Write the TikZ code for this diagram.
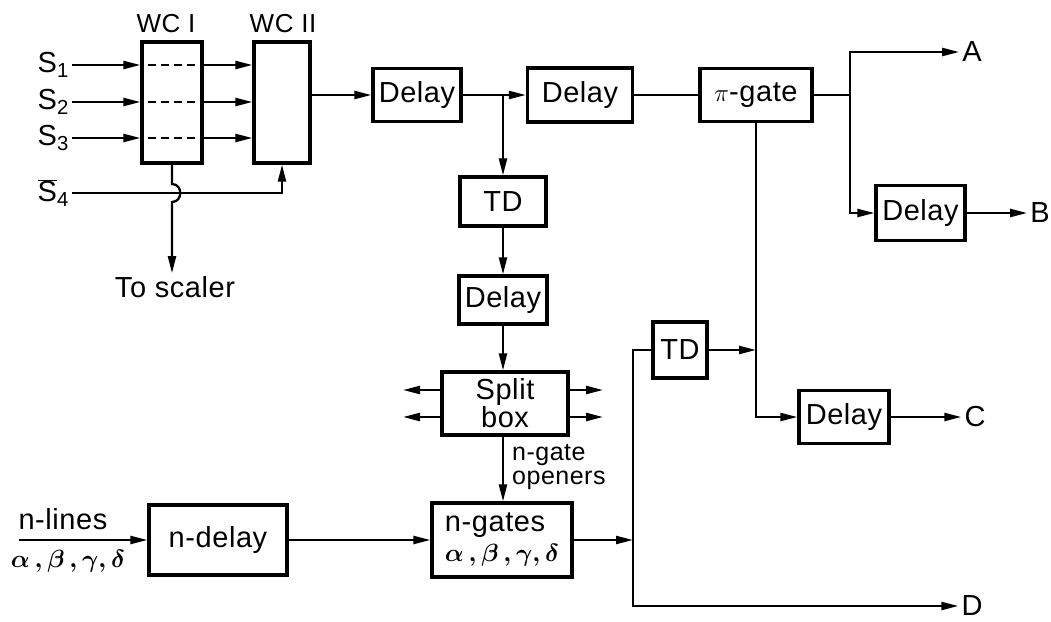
\documentclass[tikz,border=0pt]{standalone}
\usepackage{fontspec}
\setmainfont[LetterSpace=2]{Liberation Sans}
\usetikzlibrary{arrows.meta,positioning,calc}
\newcommand{\grk}{\mbox{\boldmath$\alpha\,,\beta\,,\gamma,\delta$}}
\tikzset{blk/.style={draw,line width=3.2pt,inner sep=2pt,align=center,font=\fontsize{29}{30}\selectfont},
         lbl/.style={inner sep=3pt,font=\fontsize{29}{30}\selectfont},
         wire/.style={line width=2.3pt},
         flow/.style={-{Triangle[length=17pt,width=8pt]},line width=2.3pt}}

\begin{document}
\begin{tikzpicture}[x=1pt,y=-1pt]
\useasboundingbox (0,0) rectangle (1051,621);
% coincidence units
\node[blk, minimum width=60pt, minimum height=121pt] (wc1) at (172,102.5) {};
\node[blk, minimum width=56pt, minimum height=121pt] (wc2) at (282,102.5) {};
\node[lbl, font=\fontsize{26}{28}\selectfont] (wc1t) at (166,24) {WC I};
\node[lbl, font=\fontsize{26}{28}\selectfont] (wc2t) at (283,24) {WC II};
\node[lbl, anchor=east] (s1) at (72,65) {S\textsubscript{1}};
\node[lbl, anchor=east] (s2) at (72,102) {S\textsubscript{2}};
\node[lbl, anchor=east] (s3) at (72,138) {S\textsubscript{3}};
\node[lbl, anchor=east] (s4) at (72,193) {$\overline{\hbox{S}}$\textsubscript{4}};
\node[lbl] (scaler) at (175,287) {To scaler};
% main chain
\node[blk, minimum width=88pt, minimum height=53pt] (d1) at (417,95) {Delay};
\node[blk, minimum width=105pt, minimum height=54pt] (d2) at (580,95) {Delay};
\node[blk, minimum width=112pt, minimum height=53pt] (pig) at (756,95) {$\pi$-gate};
\node[blk, minimum width=86pt, minimum height=49pt] (td1) at (503,201.5) {TD};
\node[blk, minimum width=88pt, minimum height=48pt] (d3) at (503,300) {Delay};
\node[blk, minimum width=126pt, minimum height=63pt, font=\fontsize{29}{26}\selectfont] (split) at (505,403.5) {Split\\box};
\node[blk, minimum width=140pt, minimum height=74pt, align=left] (ngates) at (502,540) {n-gates\\ \grk};
\node[blk, minimum width=138pt, minimum height=70pt] (ndelay) at (218,540) {n-delay};
\node[lbl, anchor=west, align=left, inner sep=1pt, font=\fontsize{25}{24}\selectfont] (open) at (511,467.5) {n-gate\\openers};
\node[lbl] (nl) at (63,519) {n-lines};
\node[lbl] (ng) at (68,561) {\grk};
% outputs
\node[blk, minimum width=54pt, minimum height=56pt] (td2) at (680,350) {TD};
\node[blk, minimum width=89pt, minimum height=55pt] (dB) at (920.5,213) {Delay};
\node[blk, minimum width=90pt, minimum height=53pt] (dC) at (844,417) {Delay};
\node[lbl] (A) at (972,52) {A};
\node[lbl] (B) at (1040,213) {B};
\node[lbl] (C) at (975,417) {C};
\node[lbl] (D) at (972,606) {D};
\coordinate (br) at (503,95);
\coordinate (jab) at (850,95);
\coordinate (jn) at (633,540);
\coordinate (nin) at (19,540);
\coordinate (sl1) at (403,390);
\coordinate (sl2) at (403,417);
\coordinate (sr1) at (603,390);
\coordinate (sr2) at (603,417);

\draw[flow] (s1.east) -- (s1.east -| wc1.west);
\draw[flow] (s2.east) -- (s2.east -| wc1.west);
\draw[flow] (s3.east) -- (s3.east -| wc1.west);
\draw[wire, dash pattern=on 8pt off 5pt] ([xshift=8pt]s1.east -| wc1.west) -- ([xshift=-5pt]s1.east -| wc1.east);
\draw[wire, dash pattern=on 8pt off 5pt] ([xshift=8pt]s2.east -| wc1.west) -- ([xshift=-5pt]s2.east -| wc1.east);
\draw[wire, dash pattern=on 8pt off 5pt] ([xshift=8pt]s3.east -| wc1.west) -- ([xshift=-5pt]s3.east -| wc1.east);
\draw[flow] (s1.east -| wc1.east) -- (s1.east -| wc2.west);
\draw[flow] (s2.east -| wc1.east) -- (s2.east -| wc2.west);
\draw[flow] (s3.east -| wc1.east) -- (s3.east -| wc2.west);
\draw[flow] (s4.east) -| (wc2.south);
\draw[flow] (wc1.south) -- ([yshift=9pt]wc1.south |- s4.east) .. controls +(11,0) and +(11,0) .. ([yshift=-9pt]wc1.south |- s4.east) -- (wc1.south |- scaler.north);

\draw[flow] (d1.west -| wc2.east) -- (d1.west);
\draw[flow] (d1.east) -- (d2.west);
\draw[wire] (d2.east) -- (pig.west);
\draw[flow] (br) -- (td1.north);
\draw[flow] (td1) -- (d3);
\draw[flow] (d3.south) -- (d3.south |- split.north);
\draw[flow] (sl1 -| split.west) -- (sl1);
\draw[flow] (sl2 -| split.west) -- (sl2);
\draw[flow] (sr1 -| split.east) -- (sr1);
\draw[flow] (sr2 -| split.east) -- (sr2);
\draw[flow] (d3.south |- split.south) -- (d3.south |- ngates.north);
\draw[flow] (nin) -- (ndelay.west);
\draw[flow] (ndelay.east) -- (ngates.west);
\draw[flow] (ngates.east) -- (jn);
\draw[wire] (td2.west) -| (jn);
\draw[flow] (jn) |- (D.west);
\draw[flow] (td2.east) -- (td2.east -| pig.south);
\draw[flow] (pig.south) |- (dC.west);
\draw[flow] (dC.east) -- (C.west);
\draw[wire] (pig.east) -- (jab);
\draw[flow] (jab) |- (A.west);
\draw[flow] (jab) |- (dB.west);
\draw[flow] (dB.east) -- (B.west);
\end{tikzpicture}
\end{document}
